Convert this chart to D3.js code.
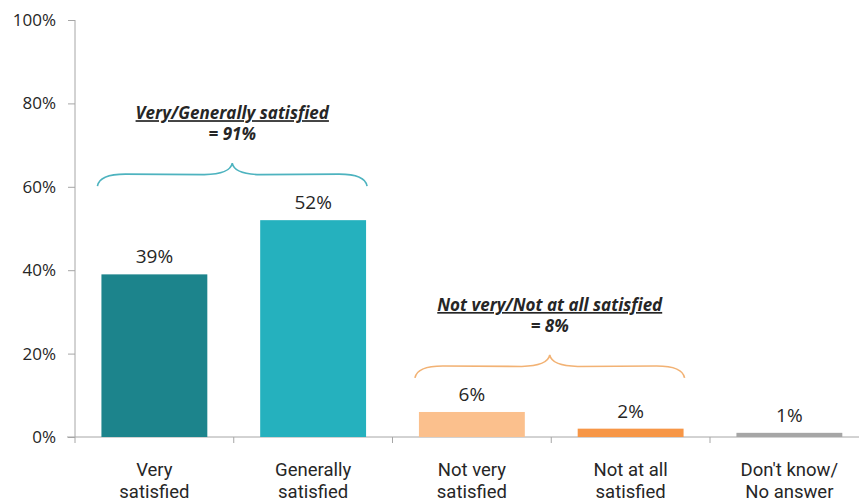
<!DOCTYPE html>
<html>
<head>
<meta charset="utf-8">
<script src="https://cdn.jsdelivr.net/npm/d3@7"></script>
<style>
  html, body { margin: 0; padding: 0; background: #fff; }
  svg { display: block; }
  text { font-family: "Open Sans", sans-serif; fill: #262626; }
  text.cat { font-family: Roboto, "Open Sans", sans-serif; }
</style>
</head>
<body>
<svg id="chart" width="859" height="502"></svg>
<script>
// Satisfaction shares (percent)
const categories = [["Very", "satisfied"], ["Generally", "satisfied"], ["Not very", "satisfied"], ["Not at all", "satisfied"], ["Don't know/", "No answer"]];
const values = [39, 52, 6, 2, 1];
const colors = ["#1c848c", "#25b1be", "#fbc08d", "#f79646", "#a6a6a6"];
const yTicks = [0, 20, 40, 60, 80, 100];

// Grouped totals shown above the bars
const groupLabels = ["Very/Generally satisfied", "Not very/Not at all satisfied"];
const groupTotals = ["= 91%", "= 8%"];
const groupMembers = [[0, 1], [2, 3]];
const groupColors = ["#4db3bf", "#f2b274"];

const svg = d3.select("#chart");
const margin = { left: 75, top: 20, bottom: 437 };
const keys = categories.map((c, i) => i);

const x = d3.scaleBand()
  .domain(keys)
  .range([margin.left, margin.left + 5 * 158.75])
  .paddingInner(0.333)
  .paddingOuter(0.1665);

const y = d3.scaleLinear().domain([0, 100]).range([margin.bottom, margin.top]);

// Y axis
const yAxis = svg.append("g")
  .attr("transform", `translate(${margin.left},0)`)
  .call(d3.axisLeft(y).tickValues(yTicks).tickFormat(d => d + "%").tickSize(7).tickPadding(12));
yAxis.select(".domain").attr("stroke", "#a6a6a6").attr("d", `M0,${y(100)}V${margin.bottom + 6}`);
yAxis.selectAll(".tick line").attr("stroke", "#a6a6a6");
yAxis.selectAll(".tick text").attr("font-size", 17).attr("fill", "#262626")
  .style("font-family", "'Open Sans', sans-serif");

// X axis baseline with category separators
const xg = svg.append("g");
xg.append("line")
  .attr("x1", 67).attr("x2", 859)
  .attr("y1", margin.bottom).attr("y2", margin.bottom)
  .attr("stroke", "#a6a6a6");
const step = x.step();
const bounds = d3.range(1, categories.length).map(i => x(i) - x.paddingInner() * step / 2);
xg.selectAll("line.sep").data(bounds).enter().append("line")
  .attr("class", "sep")
  .attr("x1", d => d).attr("x2", d => d)
  .attr("y1", margin.bottom).attr("y2", margin.bottom + 6)
  .attr("stroke", "#a6a6a6");

// Bars
svg.selectAll("rect.bar").data(values).enter().append("rect")
  .attr("class", "bar")
  .attr("x", (d, i) => x(i))
  .attr("width", x.bandwidth())
  .attr("y", d => y(d))
  .attr("height", d => y(0) - y(d))
  .attr("fill", (d, i) => colors[i]);

// Value labels
svg.selectAll("text.val").data(values).enter().append("text")
  .attr("class", "val")
  .attr("x", (d, i) => x(i) + x.bandwidth() / 2)
  .attr("y", d => y(d) - 11)
  .attr("text-anchor", "middle")
  .attr("font-size", 19)
  .text(d => d + "%");

// Category labels, one text element per line
categories.forEach((lines, i) => {
  lines.forEach((line, j) => {
    svg.append("text")
      .attr("class", "cat")
      .attr("x", x(i) + x.bandwidth() / 2)
      .attr("y", 475.5 + j * 22)
      .attr("text-anchor", "middle")
      .attr("font-size", 18.5)
      .text(line);
  });
});

// Curly braces with group totals
function bracePath(x0, x1, yBase, yPeak) {
  const xm = (x0 + x1) / 2;
  const yMid = yBase - 12;
  const q = 28;
  const p = d3.path();
  p.moveTo(x0, yBase);
  p.quadraticCurveTo(x0 + 2, yMid, x0 + q, yMid);
  p.lineTo(xm - q, yMid + 0.5);
  p.quadraticCurveTo(xm - 2, yMid, xm, yPeak);
  p.quadraticCurveTo(xm + 2, yMid, xm + q, yMid + 0.5);
  p.lineTo(x1 - q, yMid);
  p.quadraticCurveTo(x1 - 2, yMid, x1, yBase);
  return p.toString();
}

groupMembers.forEach((m, gi) => {
  const x0 = x(m[0]) - 4;
  const x1 = x(m[m.length - 1]) + x.bandwidth() + 1;
  const top = y(d3.max(m, i => values[i]));
  const base = top - 34;
  svg.append("path")
    .attr("d", bracePath(x0, x1, base, base - 23))
    .attr("fill", "none")
    .attr("stroke", groupColors[gi])
    .attr("stroke-width", 1.6);
  const cx = (x0 + x1) / 2;
  svg.append("text")
    .attr("x", cx).attr("y", base - 67)
    .attr("text-anchor", "middle")
    .attr("font-size", 17)
    .attr("font-weight", "bold")
    .attr("font-style", "italic")
    .attr("text-decoration", "underline")
    .text(groupLabels[gi]);
  svg.append("text")
    .attr("x", cx).attr("y", base - 46)
    .attr("text-anchor", "middle")
    .attr("font-size", 17)
    .attr("font-weight", "bold")
    .attr("font-style", "italic")
    .text(groupTotals[gi]);
});
</script>
</body>
</html>
